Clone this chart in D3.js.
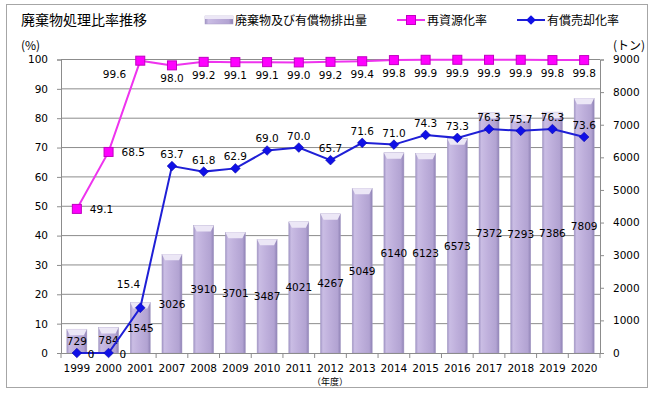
<!DOCTYPE html>
<html>
<head>
<meta charset="utf-8">
<script src="https://cdn.jsdelivr.net/npm/d3@7"></script>
<style>
  body { margin: 0; background: #fff; }
  svg text { font-family: "DejaVu Sans", Verdana, sans-serif; }
  .jp { font-family: "Noto Sans CJK JP", sans-serif; }
</style>
</head>
<body>
<svg></svg>
<script>
// データ
const years = ['1999','2000','2001','2007','2008','2009','2010','2011','2012','2013','2014','2015','2016','2017','2018','2019','2020']
const haishutsu = [729,784,1545,3026,3910,3701,3487,4021,4267,5049,6140,6123,6573,7372,7293,7386,7809]
const saishigen = [49.1,68.5,99.6,98.0,99.2,99.1,99.1,99.0,99.2,99.4,99.8,99.9,99.9,99.9,99.9,99.8,99.8]
const baikyaku = [0,0,15.4,63.7,61.8,62.9,69.0,70.0,65.7,71.6,71.0,74.3,73.3,76.3,75.7,76.3,73.6]
const pctTicks = [0,10,20,30,40,50,60,70,80,90,100]
const tonTicks = [0,1000,2000,3000,4000,5000,6000,7000,8000,9000]

const width = 654, height = 397
const pLeft = 61, pRight = 600, pTop = 59.5, pBottom = 353

const svg = d3.select('svg').attr('width', width).attr('height', height)

// 外枠
svg.append('rect')
    .attr('x', 6.5).attr('y', 4.5).attr('width', 641).attr('height', 383)
    .attr('fill', '#fff').attr('stroke', '#a6a6a6')

// グラデーション
const defs = svg.append('defs')
const grad = defs.append('linearGradient').attr('id', 'barGrad')
    .attr('x1', '0%').attr('x2', '100%').attr('y1', '0%').attr('y2', '0%')
grad.selectAll('stop').data([
    ['0%', '#a094c4'], ['12%', '#cabde4'], ['45%', '#bfb0dc'], ['85%', '#b2a3d2'], ['100%', '#8f82b5']
]).enter().append('stop').attr('offset', d => d[0]).attr('stop-color', d => d[1])

// スケール
const x = d3.scaleBand().domain(years).range([pLeft, pRight])
const yL = d3.scaleLinear().domain([0, 100]).range([pBottom, pTop])
const yR = d3.scaleLinear().domain([0, 9000]).range([pBottom, pTop])

// グリッド線
svg.append('g').selectAll('line').data(pctTicks.slice(1)).enter()
    .append('line')
    .attr('x1', pLeft).attr('x2', pRight)
    .attr('y1', d => yL(d)).attr('y2', d => yL(d))
    .attr('stroke', '#8c8c8c').attr('stroke-width', 1)

// 棒グラフ
const bw = 20
const bars = svg.append('g').selectAll('g').data(haishutsu).enter().append('g')
bars.append('rect')
    .attr('x', (v, i) => x(years[i]) + (x.bandwidth() - bw) / 2)
    .attr('y', v => yR(v))
    .attr('width', bw)
    .attr('height', v => pBottom - yR(v))
    .attr('fill', 'url(#barGrad)')
    .attr('stroke', '#a89dc6').attr('stroke-width', 0.5)
bars.append('path')
    .attr('d', (v, i) => {
        let x0 = x(years[i]) + (x.bandwidth() - bw) / 2, y0 = yR(v)
        return 'M' + x0 + ',' + y0 + 'H' + (x0 + bw) + 'L' + (x0 + bw - 3) + ',' + (y0 + 6) +
            'H' + (x0 + 3) + 'Z'
    })
    .attr('fill', '#ece7f6')

// 軸
const axisL = d3.axisLeft(yL).tickValues(pctTicks).tickSize(4).tickPadding(9)
const axisR = d3.axisRight(yR).tickValues(tonTicks).tickSize(4).tickPadding(9).tickFormat(d3.format('d'))
const axisB = d3.axisBottom(x).tickSize(0).tickPadding(12)

function styleAxis(g) {
    g.selectAll('path, line').attr('stroke', '#8c8c8c')
    g.selectAll('text').attr('font-size', '10.5px').attr('fill', '#000')
        .attr('font-family', '"DejaVu Sans", sans-serif')
}
svg.append('g').attr('transform', 'translate(' + pLeft + ',0)').call(axisL).call(styleAxis)
svg.append('g').attr('transform', 'translate(' + pRight + ',0)').call(axisR).call(styleAxis)
svg.append('g').attr('transform', 'translate(0,' + pBottom + ')').call(axisB).call(styleAxis)
// 項目の区切り目盛
svg.append('g').selectAll('line').data(years.concat(['end'])).enter()
    .append('line')
    .attr('x1', (d, i) => pLeft + i * x.step()).attr('x2', (d, i) => pLeft + i * x.step())
    .attr('y1', pBottom).attr('y2', pBottom + 5)
    .attr('stroke', '#8c8c8c')

// 棒のラベル
svg.append('g').selectAll('text').data(haishutsu).enter()
    .append('text')
    .text(v => v)
    .attr('x', (v, i) => x(years[i]) + x.bandwidth() / 2)
    .attr('y', v => (yR(v) + pBottom) / 2 + 4)
    .attr('text-anchor', 'middle')
    .attr('font-size', '10.5px')

// 再資源化率
const cx = (v, i) => x(years[i]) + x.bandwidth() / 2
const pink = svg.append('g')
pink.append('path').datum(saishigen)
    .attr('fill', 'none').attr('stroke', '#ee33ee').attr('stroke-width', 2)
    .attr('d', d3.line().x(cx).y(v => yL(v)))
pink.selectAll('rect').data(saishigen).enter().append('rect')
    .attr('x', (v, i) => cx(v, i) - 4.5).attr('y', v => yL(v) - 4.5)
    .attr('width', 9).attr('height', 9)
    .attr('fill', '#ff00ff').attr('stroke', '#c000c0').attr('stroke-width', 1)
pink.selectAll('text').data(saishigen).enter().append('text')
    .text(v => v.toFixed(1))
    .attr('x', (v, i) => i < 2 ? cx(v, i) + 13 : (i == 2 ? cx(v, i) - 14 : cx(v, i)))
    .attr('y', (v, i) => i < 2 ? yL(v) + 4 : yL(v) + 17)
    .attr('text-anchor', (v, i) => i < 2 ? 'start' : (i == 2 ? 'end' : 'middle'))
    .attr('font-size', '10.5px')

// 有償売却化率
const blue = svg.append('g')
blue.append('path').datum(baikyaku)
    .attr('fill', 'none').attr('stroke', '#1f1fd6').attr('stroke-width', 2)
    .attr('d', d3.line().x(cx).y(v => yL(v)))
blue.selectAll('path.m').data(baikyaku).enter().append('path')
    .attr('class', 'm')
    .attr('d', d3.symbol().type(d3.symbolDiamond2).size(60))
    .attr('transform', (v, i) => 'translate(' + cx(v, i) + ',' + yL(v) + ')')
    .attr('fill', '#1010e6').attr('stroke', '#0000a0').attr('stroke-width', 0.5)
blue.selectAll('text').data(baikyaku).enter().append('text')
    .text(v => v == 0 ? '0' : v.toFixed(1))
    .attr('x', (v, i) => i < 2 ? cx(v, i) + 11 : cx(v, i))
    .attr('y', (v, i) => i < 2 ? yL(v) + 5 : (i == 2 ? yL(v) - 20 : yL(v) - 8))
    .attr('text-anchor', (v, i) => i < 2 ? 'start' : (i == 2 ? 'end' : 'middle'))
    .attr('font-size', '10.5px')

// タイトル・単位
svg.append('text').attr('class', 'jp').text('廃棄物処理比率推移')
    .attr('x', 21).attr('y', 25).attr('font-size', '14px')
svg.append('text').attr('class', 'jp').text('(%)')
    .attr('x', 21).attr('y', 50).attr('font-size', '12px')
svg.append('text').attr('class', 'jp').text('(トン)')
    .attr('x', 645).attr('y', 50).attr('font-size', '12px').attr('text-anchor', 'end')
svg.append('text').attr('class', 'jp').text('（年度）')
    .attr('x', 330).attr('y', 385).attr('font-size', '9px').attr('text-anchor', 'middle')

// 凡例
const lg = svg.append('g')
lg.append('rect').attr('x', 205).attr('y', 16).attr('width', 28).attr('height', 8)
    .attr('fill', 'url(#barGrad)').attr('stroke', '#a89dc6').attr('stroke-width', 0.5)
lg.append('rect').attr('x', 205).attr('y', 16).attr('width', 28).attr('height', 3).attr('fill', '#ece7f6')
lg.append('text').attr('class', 'jp').text('廃棄物及び有償物排出量')
    .attr('x', 235).attr('y', 25).attr('font-size', '12px')
lg.append('line').attr('x1', 397).attr('x2', 425).attr('y1', 20).attr('y2', 20)
    .attr('stroke', '#ee33ee').attr('stroke-width', 2)
lg.append('rect').attr('x', 406.5).attr('y', 15.5).attr('width', 9).attr('height', 9)
    .attr('fill', '#ff00ff').attr('stroke', '#c000c0')
lg.append('text').attr('class', 'jp').text('再資源化率')
    .attr('x', 427).attr('y', 25).attr('font-size', '12px')
lg.append('line').attr('x1', 517).attr('x2', 545).attr('y1', 20).attr('y2', 20)
    .attr('stroke', '#1f1fd6').attr('stroke-width', 2)
lg.append('path').attr('d', d3.symbol().type(d3.symbolDiamond2).size(60))
    .attr('transform', 'translate(531,20)').attr('fill', '#1010e6')
lg.append('text').attr('class', 'jp').text('有償売却化率')
    .attr('x', 547).attr('y', 25).attr('font-size', '12px')
</script>
</body>
</html>
